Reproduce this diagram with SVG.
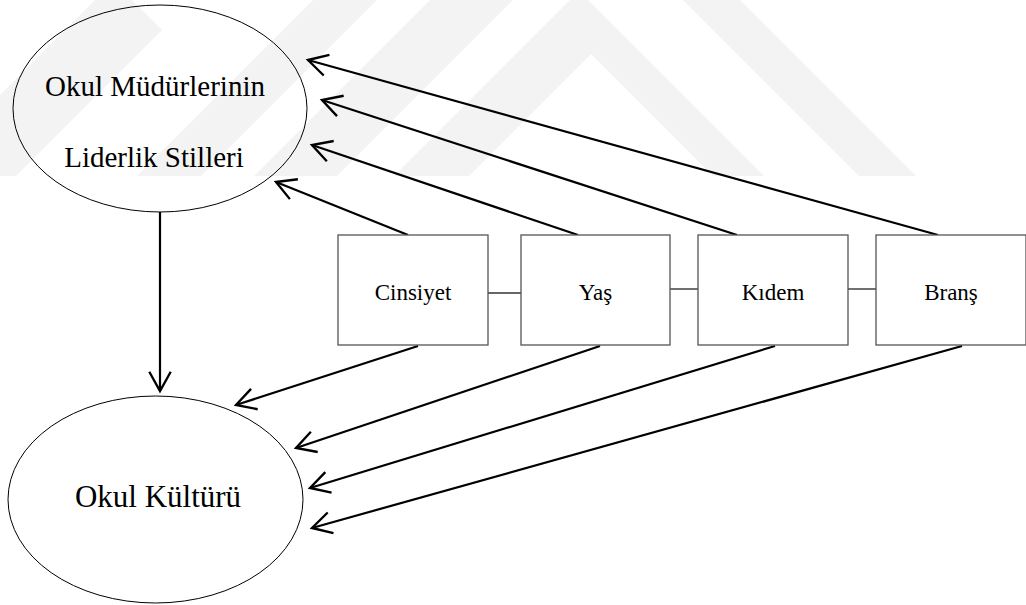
<svg xmlns="http://www.w3.org/2000/svg" width="1026" height="605" viewBox="0 0 1026 605">
<style>
.wm{fill:#f3f3f3;stroke:none}
.ell{fill:none;stroke:#000;stroke-width:1}
.box{fill:#fff;stroke:#555;stroke-width:1.3}
text{font-family:"Liberation Serif",Tinos,"Times New Roman",Times,"DejaVu Serif",serif;fill:#000;text-anchor:middle}
.arr{fill:none;stroke:#000;stroke-width:2.2;marker-end:url(#ah)}
.link{fill:none;stroke:#333;stroke-width:1.4}
</style>
<defs>
<marker id="ah" markerUnits="userSpaceOnUse" markerWidth="30" markerHeight="30" viewBox="-22 -14 26 28" refX="0" refY="0" orient="auto">
<path d="M-18,-10 L0,0 L-18,10" fill="none" stroke="#000" stroke-width="2.2"/>
</marker>
</defs>
<rect width="1026" height="605" fill="#fff"/>
<g id="watermark">
<polygon class="wm" points="394,176 579,-9 764,176 713,176 591,54 469,176"/>
<polygon class="wm" points="683,0 740,0 916,176 859,176"/>
<polygon class="wm" points="430,0 513,0 337,176 254,176"/>
<polygon class="wm" points="313,0 377,0 201,176 137,176"/>
<polygon class="wm" points="95,0 132,0 162,30 16,176 -81,176"/>
</g>
<g id="connectors">
<line class="arr" x1="938" y1="235" x2="308" y2="60"/>
<line class="arr" x1="737" y1="235" x2="322" y2="100"/>
<line class="arr" x1="578" y1="235" x2="312" y2="145"/>
<line class="arr" x1="408" y1="235" x2="276" y2="182"/>
<line class="arr" x1="160" y1="212" x2="160" y2="391"/>
<line class="arr" x1="418" y1="346" x2="236" y2="405"/>
<line class="arr" x1="600" y1="346" x2="296" y2="448"/>
<line class="arr" x1="775" y1="346" x2="310" y2="488"/>
<line class="arr" x1="962" y1="346" x2="312" y2="528"/>
<line class="link" x1="488" y1="293" x2="521" y2="293"/>
<line class="link" x1="670" y1="289" x2="698" y2="289"/>
<line class="link" x1="848" y1="289" x2="876" y2="289"/>
</g>
<g id="liderlik">
<ellipse class="ell" cx="160" cy="108.5" rx="147" ry="103.5"/>
<text x="155" y="96" font-size="29" style="font-family:'Liberation Serif',serif">Okul Müdürlerinin</text>
<text x="154" y="167" font-size="29" style="font-family:'Liberation Serif',serif">Liderlik Stilleri</text>
</g>
<g id="kultur">
<ellipse class="ell" cx="155.5" cy="499.5" rx="147.5" ry="103.5"/>
<text x="158" y="507" font-size="31" style="font-family:'Liberation Serif',serif">Okul Kültürü</text>
</g>
<g id="cinsiyet">
<rect class="box" x="338" y="235" width="150" height="110"/>
<text x="413" y="300" font-size="23" style="font-family:'Liberation Serif',serif">Cinsiyet</text>
</g>
<g id="yas">
<rect class="box" x="521" y="235" width="149" height="110"/>
<text x="595.5" y="300" font-size="23" style="font-family:'Liberation Serif',serif">Yaş</text>
</g>
<g id="kidem">
<rect class="box" x="698" y="235" width="150" height="110"/>
<text x="773" y="300" font-size="23" style="font-family:'Liberation Serif',serif">Kıdem</text>
</g>
<g id="brans">
<rect class="box" x="876" y="235" width="150" height="110"/>
<text x="951" y="300" font-size="23" style="font-family:'Liberation Serif',serif">Branş</text>
</g>
</svg>
